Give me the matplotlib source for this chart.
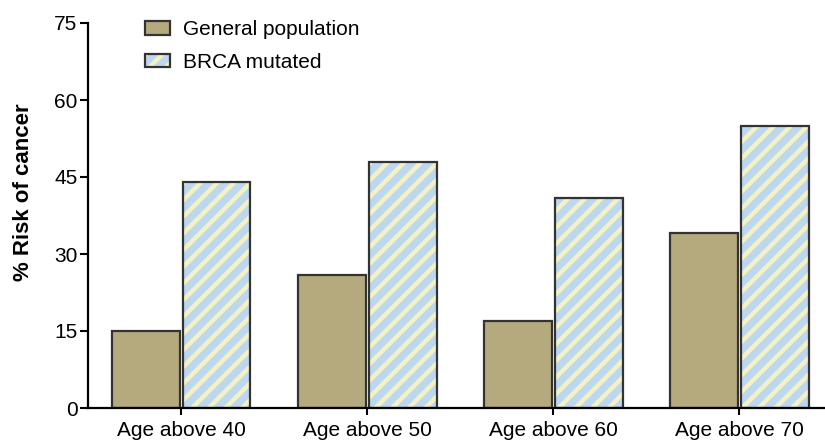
import numpy as np
import matplotlib.pyplot as plt
from matplotlib.patches import Patch

plt.rcParams['font.family'] = ['Liberation Sans', 'DejaVu Sans']
plt.rcParams['hatch.linewidth'] = 3.2

groups = ['Age above 40', 'Age above 50', 'Age above 60', 'Age above 70']
general = [15, 26, 17, 34]
brca = [44, 48, 41, 55]

olive = '#b5aa7e'
blue = '#bcd7ee'
yellow = '#f4f2c4'
edge = '#333333'

fig = plt.figure(figsize=(8.25, 4.45), dpi=100)
ax = fig.add_axes([88 / 825, 37 / 445, 752 / 825, 385 / 445])

x = np.arange(len(groups))
w = 0.365
gap = 0.008
ax.bar(x - w / 2 - gap, general, w, color=olive, edgecolor=edge, linewidth=1.6)
# hatched fill, then outline on top
ax.bar(x + w / 2 + gap, brca, w, color=blue, edgecolor=yellow, hatch='//', linewidth=0)
ax.bar(x + w / 2 + gap, brca, w, fill=False, edgecolor=edge, linewidth=1.6)

ax.set_xlim(-0.5, 3.54)
ax.set_ylim(0, 75)
ax.set_yticks([0, 15, 30, 45, 60, 75])
ax.set_xticks(x)
ax.set_xticklabels(groups)
ax.tick_params(axis='both', labelsize=15, width=1.5, direction='out')
ax.tick_params(axis='y', length=6, pad=1.5)
ax.tick_params(axis='x', length=5, pad=4)
for s in ['top', 'right']:
    ax.spines[s].set_visible(False)
for s in ['left', 'bottom']:
    ax.spines[s].set_linewidth(1.6)
ax.set_ylabel('% Risk of cancer', fontsize=16, fontweight='bold', labelpad=11)
ax.yaxis.set_label_coords(-0.072, 0.561)

h_gen = Patch(facecolor=olive, edgecolor=edge, linewidth=1.6)
h_brca = (Patch(facecolor=blue, edgecolor=yellow, hatch='//', linewidth=0),
          Patch(fill=False, edgecolor=edge, linewidth=1.6))
ax.legend([h_gen, h_brca], ['General population', 'BRCA mutated'], loc='upper left',
          bbox_to_anchor=(137 / 825, 1 - 12 / 445), bbox_transform=fig.transFigure,
          frameon=False, fontsize=15, handlelength=1.2, handleheight=0.63,
          handletextpad=0.6, labelspacing=0.65, borderaxespad=0)
fig.savefig('out.png', dpi=100)
